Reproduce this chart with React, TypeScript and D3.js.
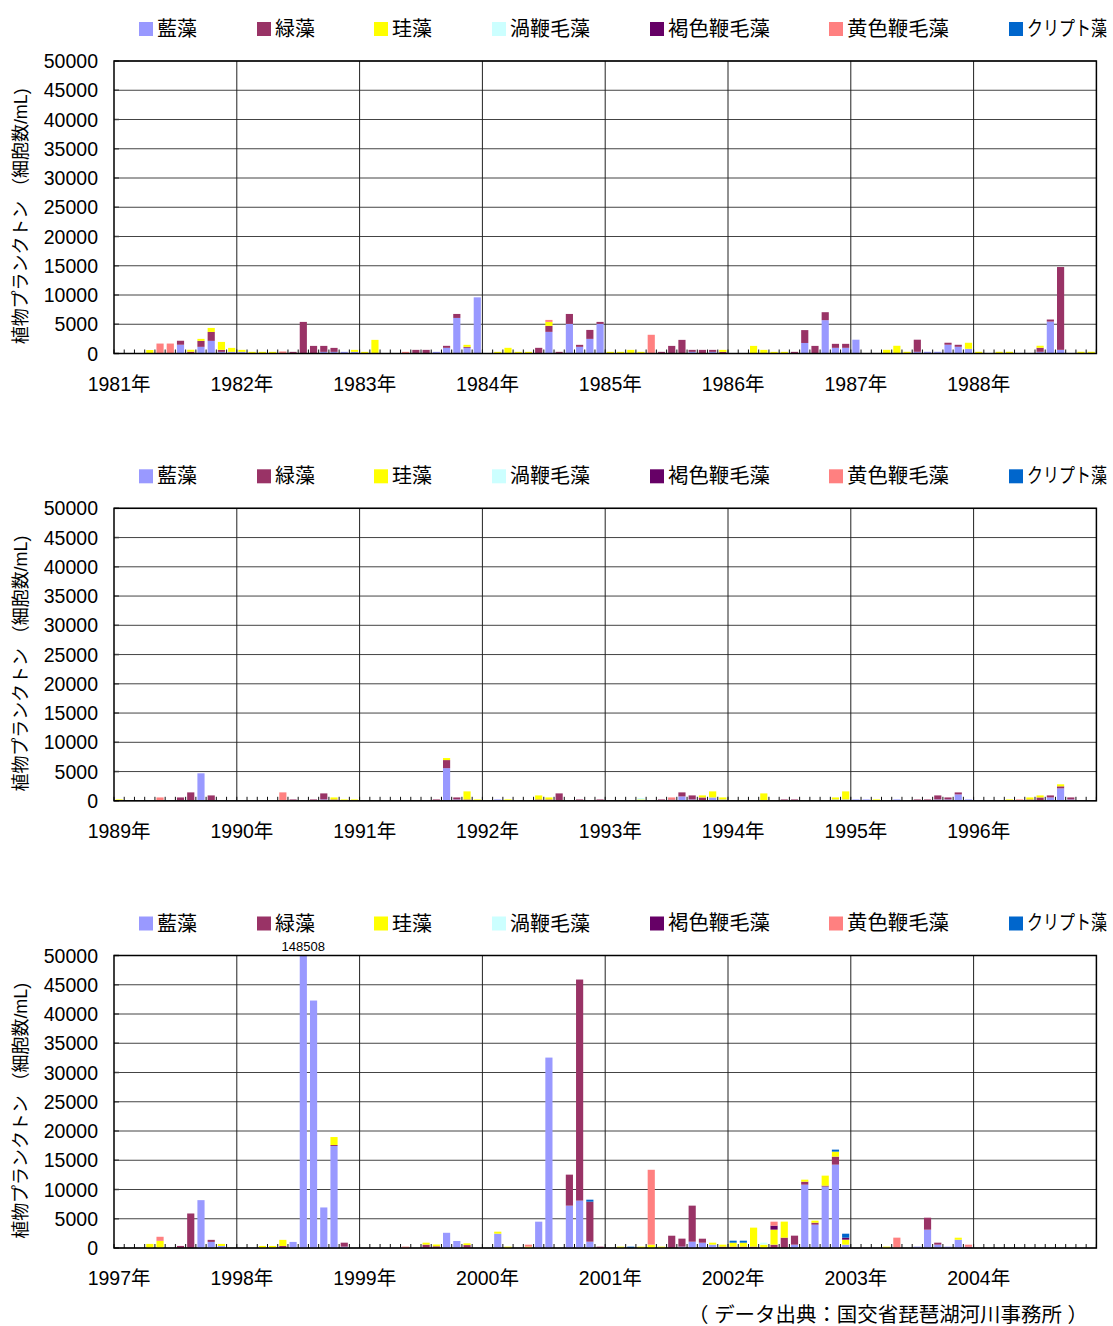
import React from "react";
import * as d3 from "d3";

// ---- series definitions ----
const seriesNames = ["藍藻", "緑藻", "珪藻", "渦鞭毛藻", "褐色鞭毛藻", "黄色鞭毛藻", "クリプト藻"];
const seriesColors = ["#9999FF", "#993366", "#FFFF00", "#CCFFFF", "#660066", "#FF8080", "#0066CC"];

type Obs = [string, number];

// 藍藻 (cells/mL), by month
const aiso: Obs[] = [
  ["1981-07", 1500], ["1981-09", 1140], ["1981-10", 2160], ["1981-11", 280], ["1981-12", 280],
  ["1982-01", 280], ["1982-09", 280], ["1982-10", 280], ["1982-11", 280], ["1982-12", 280],
  ["1983-08", 280], ["1983-09", 970], ["1983-10", 6080], ["1983-11", 970], ["1983-12", 9600],
  ["1984-07", 3700], ["1984-09", 5060], ["1984-10", 1140], ["1984-11", 2500], ["1984-12", 5060],
  ["1985-09", 280], ["1985-11", 280],
  ["1986-08", 1800], ["1986-10", 5700], ["1986-11", 970], ["1986-12", 970],
  ["1987-01", 2360], ["1987-07", 290], ["1987-08", 290], ["1987-09", 290], ["1987-10", 1500], ["1987-11", 1150], ["1987-12", 800],
  ["1988-07", 290], ["1988-08", 5460], ["1988-09", 630],
  ["1989-09", 4700], ["1990-09", 230],
  ["1991-09", 5580], ["1991-10", 230], ["1992-02", 230],
  ["1993-08", 750], ["1993-09", 230], ["1993-11", 575], ["1993-12", 230],
  ["1994-11", 230], ["1994-12", 230],
  ["1995-01", 230], ["1995-02", 230], ["1995-05", 230], ["1995-09", 230], ["1995-10", 230], ["1995-11", 1090], ["1995-12", 230],
  ["1996-08", 575], ["1996-09", 2130], ["1996-10", 230],
  ["1997-09", 8180], ["1997-10", 1040], ["1997-11", 350],
  ["1998-06", 1040], ["1998-07", 148508], ["1998-08", 42300], ["1998-09", 6930], ["1998-10", 17440], ["1998-11", 230],
  ["1999-09", 2600], ["1999-10", 1200],
  ["2000-02", 2450], ["2000-06", 4500], ["2000-07", 32550], ["2000-09", 7240], ["2000-10", 8100], ["2000-11", 1080],
  ["2001-08", 230], ["2001-09", 1080], ["2001-10", 910], ["2001-11", 570],
  ["2002-07", 570], ["2002-08", 10830], ["2002-09", 3990], ["2002-10", 10490], ["2002-11", 14250], ["2002-12", 570],
  ["2003-07", 230], ["2003-08", 3130], ["2003-09", 570], ["2003-10", 230], ["2003-11", 1420],
];

// 緑藻
const ryokuso: Obs[] = [
  ["1981-07", 680], ["1981-08", 300], ["1981-09", 1020], ["1981-10", 1530], ["1981-11", 340],
  ["1982-06", 280], ["1982-07", 5400], ["1982-08", 1300], ["1982-09", 1020], ["1982-10", 680],
  ["1983-06", 620], ["1983-07", 620], ["1983-09", 340], ["1983-10", 680], ["1983-11", 170],
  ["1984-06", 970], ["1984-07", 1020], ["1984-08", 280], ["1984-09", 1700], ["1984-10", 340], ["1984-11", 1530], ["1984-12", 340],
  ["1985-06", 280], ["1985-07", 1300], ["1985-08", 2330], ["1985-09", 340], ["1985-10", 620], ["1985-11", 340], ["1985-12", 280],
  ["1986-07", 280], ["1986-08", 2200], ["1986-09", 1300], ["1986-10", 1360], ["1986-11", 680], ["1986-12", 680],
  ["1987-07", 2070], ["1987-10", 340], ["1987-11", 340],
  ["1988-07", 690], ["1988-08", 345], ["1988-09", 14150],
  ["1989-07", 575], ["1989-08", 1440], ["1989-10", 920],
  ["1990-06", 230], ["1990-08", 230], ["1990-09", 1035], ["1990-10", 230],
  ["1991-08", 230], ["1991-09", 1380], ["1991-10", 345], ["1991-11", 230],
  ["1992-06", 230], ["1992-07", 230], ["1992-08", 1265], ["1992-10", 230], ["1992-12", 230],
  ["1993-06", 230], ["1993-07", 230], ["1993-08", 690], ["1993-09", 690], ["1993-10", 575],
  ["1994-06", 230], ["1994-07", 230],
  ["1995-07", 230], ["1995-08", 230], ["1995-09", 690], ["1995-10", 345], ["1995-11", 345],
  ["1996-06", 230], ["1996-07", 575], ["1996-08", 345], ["1996-09", 345], ["1996-10", 345],
  ["1997-07", 350], ["1997-08", 5900], ["1997-10", 350],
  ["1998-05", 350], ["1998-10", 170], ["1998-11", 680],
  ["1999-07", 570], ["1999-08", 300], ["1999-11", 500],
  ["2000-09", 5300], ["2000-10", 37790], ["2000-11", 6840], ["2000-12", 230],
  ["2001-07", 2100], ["2001-08", 1370], ["2001-09", 6160], ["2001-10", 680], ["2001-12", 230],
  ["2002-01", 230], ["2002-02", 230], ["2002-03", 230], ["2002-05", 570], ["2002-06", 1770], ["2002-07", 1540],
  ["2002-08", 510], ["2002-09", 340], ["2002-10", 170], ["2002-11", 1370],
  ["2003-08", 2050], ["2003-09", 340], ["2003-12", 230],
];

// 珪藻
const keiso: Obs[] = [
  ["1981-04", 600], ["1981-08", 340], ["1981-09", 340], ["1981-10", 680], ["1981-11", 1360], ["1981-12", 680],
  ["1982-01", 340], ["1982-02", 280], ["1982-03", 280], ["1982-04", 280], ["1982-12", 340],
  ["1983-01", 280], ["1983-02", 2330], ["1983-11", 340],
  ["1984-02", 280], ["1984-03", 970], ["1984-04", 280], ["1984-05", 280], ["1984-07", 680],
  ["1985-01", 280], ["1985-02", 280], ["1985-03", 620], ["1985-04", 280], ["1985-12", 340],
  ["1986-03", 1300], ["1986-04", 620], ["1986-05", 280], ["1986-06", 280],
  ["1987-04", 630], ["1987-05", 1320], ["1987-06", 290], ["1987-12", 1035],
  ["1988-01", 290], ["1988-03", 290], ["1988-04", 290], ["1988-07", 345], ["1988-11", 290], ["1988-12", 290],
  ["1989-01", 230], ["1990-10", 345], ["1990-11", 230], ["1990-12", 230],
  ["1991-09", 345], ["1991-11", 1380], ["1991-12", 230],
  ["1992-03", 230], ["1992-06", 690], ["1992-07", 345],
  ["1993-04", 230], ["1993-10", 345], ["1993-11", 1035], ["1993-12", 345],
  ["1994-04", 1265], ["1994-11", 345], ["1994-12", 1380],
  ["1995-03", 230], ["1996-04", 230], ["1996-06", 345], ["1996-07", 345], ["1996-09", 345],
  ["1997-04", 700], ["1997-05", 1220], ["1997-11", 350],
  ["1998-03", 350], ["1998-04", 350], ["1998-05", 1040], ["1998-10", 1360],
  ["1999-07", 340], ["1999-08", 300], ["1999-11", 300],
  ["2000-02", 340], ["2000-03", 230], ["2000-05", 230],
  ["2001-02", 230], ["2001-04", 230], ["2001-05", 570], ["2001-06", 230], ["2001-11", 340], ["2001-12", 340],
  ["2002-01", 680], ["2002-02", 680], ["2002-03", 3250], ["2002-04", 570], ["2002-05", 2570], ["2002-06", 2740],
  ["2002-08", 340], ["2002-09", 340], ["2002-10", 1710], ["2002-11", 855], ["2002-12", 855],
  ["2003-04", 230], ["2003-11", 340],
];

// 渦鞭毛藻
const uzubenmoso: Obs[] = [
  ["1993-04", 230], ["2002-04", 340],
];

// 褐色鞭毛藻
const kasshokubenmoso: Obs[] = [
  ["2002-05", 680], ["2002-12", 340],
];

// 黄色鞭毛藻
const oshokubenmoso: Obs[] = [
  ["1981-05", 1700], ["1981-06", 1700], ["1982-05", 340], ["1983-05", 280], ["1984-07", 340], ["1985-05", 3200],
  ["1989-05", 575], ["1990-05", 1440], ["1993-07", 345], ["1996-05", 230],
  ["1997-05", 700], ["1999-05", 230], ["2000-05", 340], ["2001-05", 12800], ["2002-05", 680],
  ["2003-05", 1770], ["2003-12", 340],
];

// クリプト藻
const kuriputoso: Obs[] = [
  ["2000-11", 340], ["2001-03", 230], ["2002-01", 340], ["2002-02", 340], ["2002-11", 340], ["2002-12", 680],
];

const seriesData: Obs[][] = [aiso, ryokuso, keiso, uzubenmoso, kasshokubenmoso, oshokubenmoso, kuriputoso];

const panelStartYears = [1981, 1989, 1997];
const yearsPerPanel = 8;
const yTickValues = [0, 5000, 10000, 15000, 20000, 25000, 30000, 35000, 40000, 45000, 50000];
const yAxisTitle = "植物プランクトン （細胞数/mL)";
const sourceNote = "（ データ出典：国交省琵琶湖河川事務所 ）";

// ---- layout ----
const W = 1113;
const H = 1326;
const plotLeft = 114;
const plotRight = 1096.4;
const panelTops = [61, 508.3, 955.5];
const plotH = 292.5;
const legendX = [139, 257, 374, 492, 650, 829, 1009];
const legendScaleX = [1, 1, 1, 1, 1.02, 1.02, 0.8];
const FONT = "'Liberation Sans', Arial, 'Noto Sans CJK JP', sans-serif";

function buildRows(startYear: number) {
  const n = yearsPerPanel * 12;
  const rows: Record<string, number>[] = d3.range(n).map((i) => {
    const r: Record<string, number> = { month: i };
    seriesNames.forEach((s) => (r[s] = 0));
    return r;
  });
  seriesData.forEach((arr, si) => {
    arr.forEach(([ym, v]) => {
      const [y, m] = ym.split("-").map(Number);
      const idx = (y - startYear) * 12 + (m - 1);
      if (idx >= 0 && idx < n) rows[idx][seriesNames[si]] += v;
    });
  });
  return rows;
}

function Panel({ startYear, top, pi }: { startYear: number; top: number; pi: number }) {
  const n = yearsPerPanel * 12;
  const rows = buildRows(startYear);
  const stack = d3.stack<Record<string, number>>().keys(seriesNames)(rows);
  const xLin = d3.scaleLinear().domain([0, n]).range([plotLeft, plotRight]);
  const band = d3
    .scaleBand<number>()
    .domain(d3.range(n))
    .range([plotLeft, plotRight])
    .paddingInner(0.3)
    .paddingOuter(0.15);
  const y = d3.scaleLinear().domain([0, 50000]).range([top + plotH, top]);
  const bottom = top + plotH;
  const clipId = `clip-${pi}`;
  const overflow = rows
    .map((r, i) => ({ i, total: d3.sum(seriesNames, (s) => r[s]) }))
    .filter((d) => d.total > 50000);

  return (
    <g>
      <defs>
        <clipPath id={clipId}>
          <rect x={plotLeft} y={top} width={plotRight - plotLeft} height={plotH} />
        </clipPath>
      </defs>
      {/* legend */}
      {seriesNames.map((s, i) => (
        <g key={s}>
          <rect x={legendX[i]} y={top - 39} width={14} height={14} fill={seriesColors[i]} />
          <text
            transform={`translate(${legendX[i] + 18}, ${top - 32}) scale(${legendScaleX[i]}, 1)`}
            dominantBaseline="central"
            fontSize={20}
            fontFamily={FONT}
            fill="#000"
          >
            {s}
          </text>
        </g>
      ))}
      {/* horizontal gridlines */}
      {yTickValues.map((t) => (
        <line key={t} x1={plotLeft} x2={plotRight} y1={y(t)} y2={y(t)} stroke="#444" strokeWidth={1} />
      ))}
      {/* year separators */}
      {d3.range(1, yearsPerPanel).map((k) => (
        <line key={k} x1={xLin(k * 12)} x2={xLin(k * 12)} y1={top} y2={bottom} stroke="#222" strokeWidth={1} />
      ))}
      {/* bars */}
      <g clipPath={`url(#${clipId})`}>
        {stack.map((layer, si) =>
          layer.map((d, i) =>
            d[1] - d[0] > 0 ? (
              <rect
                key={`${si}-${i}`}
                x={band(i)}
                width={band.bandwidth()}
                y={y(d[1])}
                height={y(d[0]) - y(d[1])}
                fill={seriesColors[si]}
              />
            ) : null
          )
        )}
      </g>
      {/* overflow labels */}
      {overflow.map((d) => (
        <text
          key={d.i}
          x={(band(d.i) as number) + band.bandwidth() / 2}
          y={top - 5}
          textAnchor="middle"
          fontSize={13}
          fontFamily={FONT}
        >
          {d.total}
        </text>
      ))}
      {/* month ticks */}
      {d3.range(0, n + 1).map((i) => (
        <line key={i} x1={xLin(i)} x2={xLin(i)} y1={bottom} y2={bottom - 4} stroke="#111" strokeWidth={1} />
      ))}
      {/* y ticks */}
      {yTickValues.map((t) => (
        <g key={t}>
          <line x1={plotLeft} x2={plotLeft + 5} y1={y(t)} y2={y(t)} stroke="#444" strokeWidth={1.5} />
          <text
            x={98}
            y={y(t)}
            textAnchor="end"
            dominantBaseline="central"
            fontSize={19.5}
            fontFamily={FONT}
          >
            {d3.format("d")(t)}
          </text>
        </g>
      ))}
      {/* frame */}
      <rect
        x={plotLeft}
        y={top}
        width={plotRight - plotLeft}
        height={plotH}
        fill="none"
        stroke="#000"
        strokeWidth={1.5}
      />
      {/* year labels */}
      {d3.range(yearsPerPanel).map((k) => (
        <text
          key={k}
          x={xLin(k * 12 + 0.5)}
          y={bottom + 30}
          textAnchor="middle"
          dominantBaseline="central"
          fontSize={19.5}
          fontFamily={FONT}
        >
          {`${startYear + k}年`}
        </text>
      ))}
      {/* y axis title */}
      <text
        transform={`translate(21, ${top + plotH / 2 + 9}) rotate(-90)`}
        textAnchor="middle"
        dominantBaseline="central"
        fontSize={18}
        fontFamily={FONT}
        textLength={256}
        lengthAdjust="spacingAndGlyphs"
      >
        {yAxisTitle}
      </text>
    </g>
  );
}

export default function App() {
  return (
    <svg
      width={W}
      height={H}
      viewBox={`0 0 ${W} ${H}`}
      style={{ position: "absolute", left: 0, top: 0, display: "block", background: "#fff" }}
    >
      <rect x={0} y={0} width={W} height={H} fill="#fff" />
      {panelStartYears.map((yr, pi) => (
        <Panel key={yr} startYear={yr} top={panelTops[pi]} pi={pi} />
      ))}
      <text
        x={688}
        y={1315}
        dominantBaseline="central"
        fontSize={20}
        fontFamily={FONT}
        textLength={400}
        lengthAdjust="spacingAndGlyphs"
      >
        {sourceNote}
      </text>
    </svg>
  );
}
